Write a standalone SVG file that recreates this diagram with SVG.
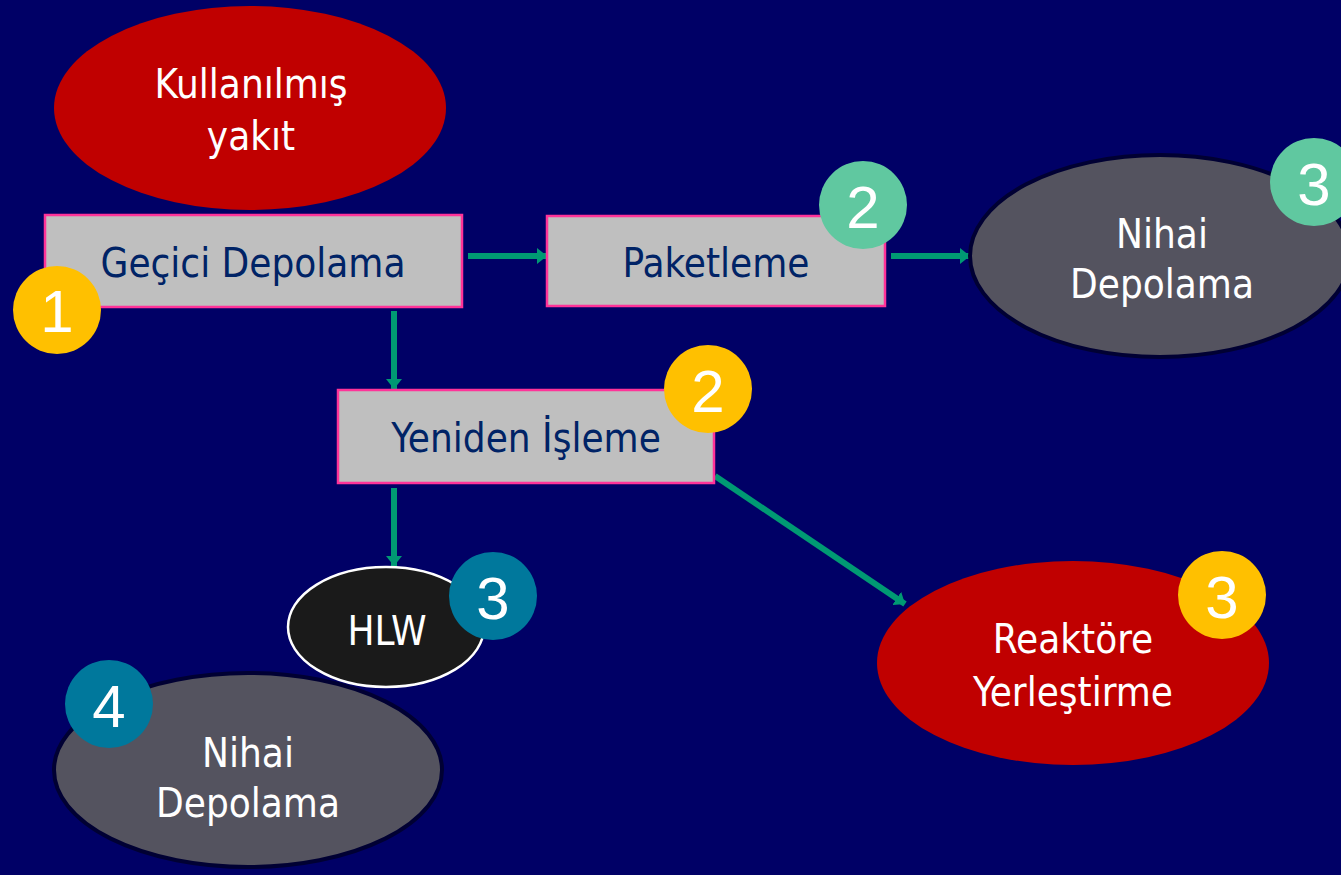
<svg xmlns="http://www.w3.org/2000/svg" width="1341" height="875" viewBox="0 0 1341 875">
  <defs>
    <style>
      .lbl { font-family: "DejaVu Sans Condensed", "DejaVu Sans", sans-serif; font-stretch: condensed; font-size: 40px; text-anchor: middle; }
      .dark { fill: #002366; }
      .light { fill: #ffffff; }
      .box { fill: #bfbfbf; stroke: #ff3399; stroke-width: 2.5; }
      .num { font-family: "Liberation Sans", Arial, sans-serif; font-size: 60px; fill: #ffffff; text-anchor: middle; }
      .flow { stroke: #009973; stroke-width: 6; fill: none; }
      .gray { fill: #54535f; stroke: #000033; stroke-width: 4; }
      .red { fill: #c00000; }
      .b-yellow { fill: #ffc000; }
      .b-green { fill: #60c8a0; }
      .b-teal { fill: #00789c; }
    </style>
    <marker id="head" viewBox="0 0 10 16" refX="10" refY="8" markerWidth="10" markerHeight="16" markerUnits="userSpaceOnUse" orient="auto">
      <path d="M0,0 L10,8 L0,16 Z" fill="#009973"/>
    </marker>
  </defs>

  <rect width="1341" height="875" fill="#000066"/>

  <!-- connectors -->
  <g id="connectors">
    <line class="flow" x1="468" y1="256" x2="547" y2="256" marker-end="url(#head)"/>
    <line class="flow" x1="891" y1="256" x2="970" y2="256" marker-end="url(#head)"/>
    <line class="flow" x1="394" y1="311" x2="394" y2="389" marker-end="url(#head)"/>
    <line class="flow" x1="394" y1="488" x2="394" y2="566" marker-end="url(#head)"/>
    <line class="flow" x1="715" y1="476" x2="905" y2="604" marker-end="url(#head)"/>
  </g>

  <g id="kullanilmis-yakit">
    <ellipse class="red" cx="250" cy="108" rx="196" ry="102"/>
    <text class="lbl light" x="251" y="98">Kullanılmış</text>
    <text class="lbl light" x="251" y="150">yakıt</text>
  </g>

  <g id="gecici-depolama">
    <rect class="box" x="45" y="215" width="417" height="92"/>
    <text class="lbl dark" x="253" y="277">Geçici Depolama</text>
    <circle class="b-yellow" cx="57" cy="310" r="44"/>
    <text class="num" x="57" y="332">1</text>
  </g>

  <g id="paketleme">
    <rect class="box" x="547" y="216" width="338" height="90"/>
    <text class="lbl dark" x="716" y="277">Paketleme</text>
    <circle class="b-green" cx="863" cy="205" r="44"/>
    <text class="num" x="863" y="228">2</text>
  </g>

  <g id="nihai-depolama-1">
    <ellipse class="gray" cx="1160" cy="256" rx="190" ry="101"/>
    <text class="lbl light" x="1162" y="248">Nihai</text>
    <text class="lbl light" x="1162" y="298">Depolama</text>
    <circle class="b-green" cx="1314" cy="182" r="44"/>
    <text class="num" x="1314" y="205">3</text>
  </g>

  <g id="yeniden-isleme">
    <rect class="box" x="338" y="390" width="376" height="93"/>
    <text class="lbl dark" x="526" y="452">Yeniden İşleme</text>
    <circle class="b-yellow" cx="708" cy="389" r="44"/>
    <text class="num" x="708" y="412">2</text>
  </g>

  <g id="hlw">
    <ellipse cx="386" cy="627" rx="98" ry="60" fill="#1a1a1a" stroke="#ffffff" stroke-width="2.5"/>
    <text class="lbl light" x="387" y="645">HLW</text>
    <circle class="b-teal" cx="493" cy="596" r="44"/>
    <text class="num" x="493" y="619">3</text>
  </g>

  <g id="nihai-depolama-2">
    <ellipse class="gray" cx="248" cy="770" rx="194" ry="97"/>
    <text class="lbl light" x="248" y="767">Nihai</text>
    <text class="lbl light" x="248" y="817">Depolama</text>
    <circle class="b-teal" cx="109" cy="704" r="44"/>
    <text class="num" x="109" y="727">4</text>
  </g>

  <g id="reaktore-yerlestirme">
    <ellipse class="red" cx="1073" cy="663" rx="196" ry="102"/>
    <text class="lbl light" x="1073" y="653">Reaktöre</text>
    <text class="lbl light" x="1073" y="706">Yerleştirme</text>
    <circle class="b-yellow" cx="1222" cy="595" r="44"/>
    <text class="num" x="1222" y="618">3</text>
  </g>
</svg>
